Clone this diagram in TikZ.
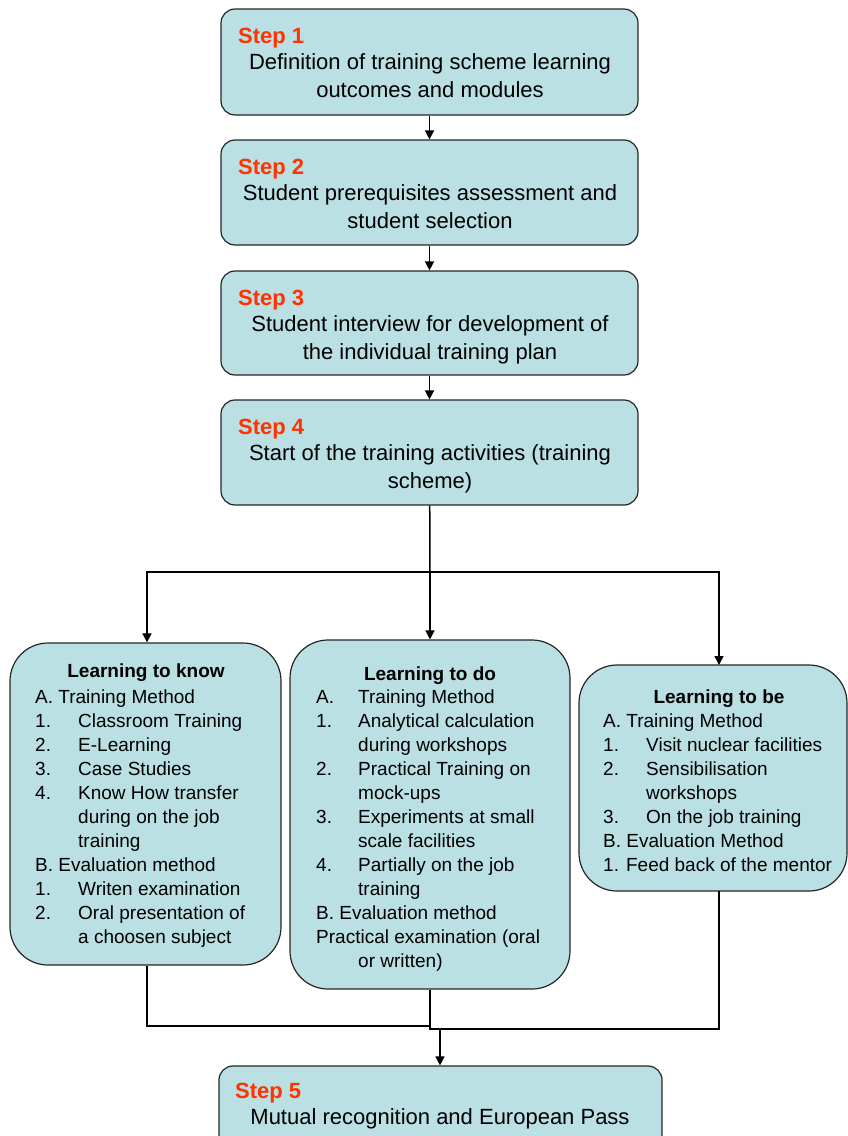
\documentclass[tikz,border=0pt]{standalone}
\usepackage{fontspec}
\setmainfont{Liberation Sans}
\usetikzlibrary{arrows.meta}
\definecolor{boxfill}{HTML}{BAE0E3}
\definecolor{steprd}{HTML}{FF3300}
\begin{document}
\begin{tikzpicture}[x=1pt,y=-1pt,
  stepbox/.style={draw=black!85, line width=1.2pt, fill=boxfill, rounded corners=14pt, inner sep=0pt},
  bigbox/.style={draw=black!85, line width=1.2pt, fill=boxfill, rounded corners=38pt, inner sep=0pt},
  steplbl/.style={anchor=base west, inner sep=0pt, text=steprd, font=\fontsize{22}{28}\selectfont\bfseries},
  steptxt/.style={anchor=base, inner sep=0pt, font=\fontsize{22}{28}\selectfont},
  ttl/.style={anchor=base, inner sep=0pt, font=\fontsize{19}{24}\selectfont\bfseries},
  lst/.style={anchor=base west, inner sep=0pt, font=\fontsize{19}{24}\selectfont},
  conn/.style={line width=1.5pt, draw=black},
  arr/.style={conn, -{Triangle[length=9pt,width=9pt]}}]
\useasboundingbox (0,0) rectangle (848,1136);

% step boxes
\node[stepbox, minimum width=417pt, minimum height=106pt] (s1) at (429.5,62) {};
\node[stepbox, minimum width=417pt, minimum height=105pt] (s2) at (429.5,192.5) {};
\node[stepbox, minimum width=417pt, minimum height=104pt] (s3) at (429.5,323) {};
\node[stepbox, minimum width=417pt, minimum height=105pt] (s4) at (429.5,452.5) {};
\node[stepbox, minimum width=443pt, minimum height=100pt] (s5) at (440.5,1116) {};

\node[steplbl] (l1) at (238,43) {Step 1};
\node[steptxt] (t1) at (430,69) {\begin{tabular}[t]{@{}c@{}}Definition of training scheme learning\\ outcomes and modules\end{tabular}};
\node[steplbl] (l2) at (238,174) {Step 2};
\node[steptxt] (t2) at (430,200) {\begin{tabular}[t]{@{}c@{}}Student prerequisites assessment and\\ student selection\end{tabular}};
\node[steplbl] (l3) at (238,305) {Step 3};
\node[steptxt] (t3) at (430,331) {\begin{tabular}[t]{@{}c@{}}Student interview for development of\\ the individual training plan\end{tabular}};
\node[steplbl] (l4) at (238,434) {Step 4};
\node[steptxt] (t4) at (430,460) {\begin{tabular}[t]{@{}c@{}}Start of the training activities (training\\ scheme)\end{tabular}};
\node[steplbl] (l5) at (235,1098) {Step 5};
\node[steptxt] (t5) at (440,1124) {Mutual recognition and European Pass};

% learning boxes
\node[bigbox, minimum width=271pt, minimum height=322pt] (know) at (145.5,804) {};
\node[bigbox, minimum width=280pt, minimum height=349pt] (do) at (430,814.5) {};
\node[bigbox, minimum width=268pt, minimum height=226pt] (be) at (713,778) {};

\node[ttl] (knowt) at (146,677) {Learning to know};
\node[lst] (knowl) at (35,703) {\begin{tabular}[t]{@{}p{43pt}@{}l@{}}
\multicolumn{2}{@{}l@{}}{A. Training Method}\\
1. & Classroom Training\\
2. & E-Learning\\
3. & Case Studies\\
4. & Know How transfer\\
   & during on the job\\
   & training\\
\multicolumn{2}{@{}l@{}}{B. Evaluation method}\\
1. & Writen examination\\
2. & Oral presentation of\\
   & a choosen subject
\end{tabular}};

\node[ttl] (dot) at (430,680) {Learning to do};
\node[lst] (dol) at (316,703) {\begin{tabular}[t]{@{}p{42pt}@{}l@{}}
A. & Training Method\\
1. & Analytical calculation\\
   & during workshops\\
2. & Practical Training on\\
   & mock-ups\\
3. & Experiments at small\\
   & scale facilities\\
4. & Partially on the job\\
   & training\\
\multicolumn{2}{@{}l@{}}{B. Evaluation method}\\
\multicolumn{2}{@{}l@{}}{Practical examination (oral}\\
   & or written)
\end{tabular}};

\node[ttl] (bet) at (719,703) {Learning to be};
\node[lst] (bel) at (603,727) {\begin{tabular}[t]{@{}p{43pt}@{}l@{}}
\multicolumn{2}{@{}l@{}}{A. Training Method}\\
1. & Visit nuclear facilities\\
2. & Sensibilisation\\
   & workshops\\
3. & On the job training\\
\multicolumn{2}{@{}l@{}}{B. Evaluation Method}\\
\multicolumn{2}{@{}l@{}}{1. Feed back of the mentor}
\end{tabular}};

% connectors between steps
\draw[arr] (s1) -- (s2);
\draw[arr] (s2) -- (s3);
\draw[arr] (s3) -- (s4);

% split
\coordinate (sp) at (430,572);
\coordinate (bein) at (719,665);
\coordinate (beout) at (719,891);
\draw[conn] (s4) -- (sp);
\draw[arr] (sp) -| ([xshift=1.5pt]know.north);
\draw[arr] (sp) -- (do.north);
\draw[arr] (sp) -| (bein);

% merge
\coordinate (j1) at (430,1026);
\coordinate (j2) at (440,1029);
\draw[conn] ([xshift=1.5pt]know.south) |- (j1);
\draw[conn] (do.south) -- (j1);
\draw[conn] (j1) |- (j2);
\draw[conn] (beout) |- (j2);
\draw[arr] (j2) -- (s5.north -| j2);
\end{tikzpicture}
\end{document}
